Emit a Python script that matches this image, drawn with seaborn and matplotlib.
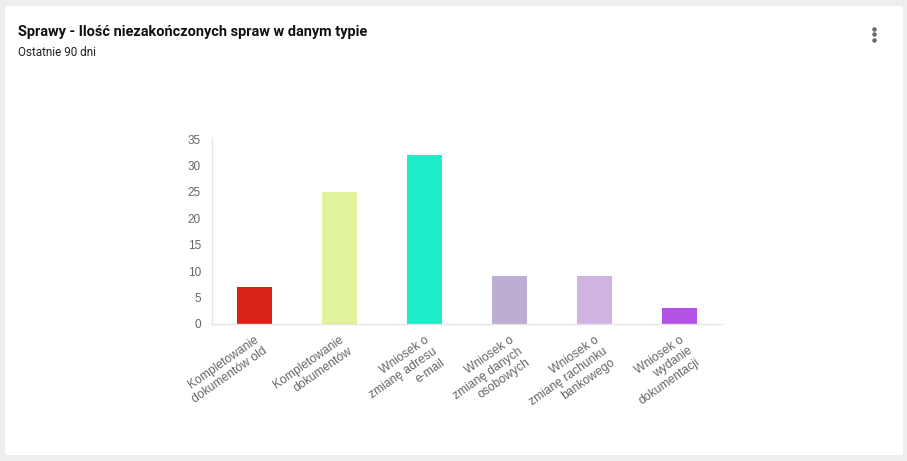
import matplotlib
matplotlib.use("Agg")
import matplotlib.pyplot as plt
from matplotlib.patches import FancyBboxPatch
from matplotlib.lines import Line2D
import seaborn as sns
import pandas as pd

categories = [
    "Kompletowanie\ndokumentów old",
    "Kompletowanie\ndokumentów",
    "Wniosek o\nzmianę adresu\ne-mail",
    "Wniosek o\nzmianę danych\nosobowych",
    "Wniosek o\nzmianę rachunku\nbankowego",
    "Wniosek o\nwydanie\ndokumentacji",
]
values = [7, 25, 32, 9, 9, 3]
colors = ["#d92215", "#e0f29a", "#1decc8", "#bcaed3", "#d0b3e3", "#b552e6"]
yticks = [0, 5, 10, 15, 20, 25, 30, 35]

df = pd.DataFrame({"cat": categories, "val": values})

sns.set_theme(style="white")
plt.rcParams["font.family"] = ["Liberation Sans", "DejaVu Sans"]

W, H = 907, 461
fig = plt.figure(figsize=(W / 100, H / 100), dpi=100)
fig.patch.set_facecolor("#eeeeee")

card = FancyBboxPatch((5 / W, 6 / H), 898 / W, 449 / H,
                      boxstyle="round,pad=0,rounding_size=0.004",
                      transform=fig.transFigure, facecolor="white",
                      edgecolor="none", zorder=-10)
fig.patches.append(card)

ax = fig.add_axes([212 / W, (H - 324) / H, 510 / W, 185 / H])
ax.set_zorder(5)
ax.set_facecolor("none")
sns.barplot(data=df, x="cat", y="val", hue="cat", palette=colors,
            legend=False, width=0.42, ax=ax, saturation=1,
            edgecolor=None, linewidth=0)
ax.set_ylim(0, 35)
ax.set_yticks(yticks)
ax.set_xlim(-0.5, len(categories) - 0.5)
ax.set_xlabel("")
ax.set_ylabel("")
for s in ["top", "right"]:
    ax.spines[s].set_visible(False)
for s in ["left", "bottom"]:
    ax.spines[s].set_color("#e5e5e5")
    ax.spines[s].set_linewidth(1)
ax.tick_params(axis="y", length=0, labelsize=8.5, labelcolor="#666666", pad=8)
ax.tick_params(axis="x", length=0, labelsize=8.7, labelcolor="#666666", pad=7)
for lab in ax.get_xticklabels():
    lab.set_rotation(35)
    lab.set_ha("right")
    lab.set_va("top")
    lab.set_rotation_mode("anchor")
    lab.set_multialignment("right")
    lab.set_linespacing(1.2)

fig.text(18 / W, 1 - 32 / H, "Sprawy - Ilość niezakończonych spraw w danym typie",
         fontsize=10.45, fontweight="bold", color="#111111", va="center",
         family=["Roboto", "DejaVu Sans"])
fig.text(18 / W, 1 - 53 / H, "Ostatnie 90 dni", fontsize=8.5, color="#222222",
         va="center", family=["Roboto", "DejaVu Sans"])

for yy in (29, 34.5, 40):
    fig.lines.append(Line2D([874 / W], [1 - yy / H], marker="o", markersize=2.2,
                            color="#666666", linestyle="none",
                            transform=fig.transFigure))

fig.savefig("out.png", dpi=100, facecolor=fig.get_facecolor())
